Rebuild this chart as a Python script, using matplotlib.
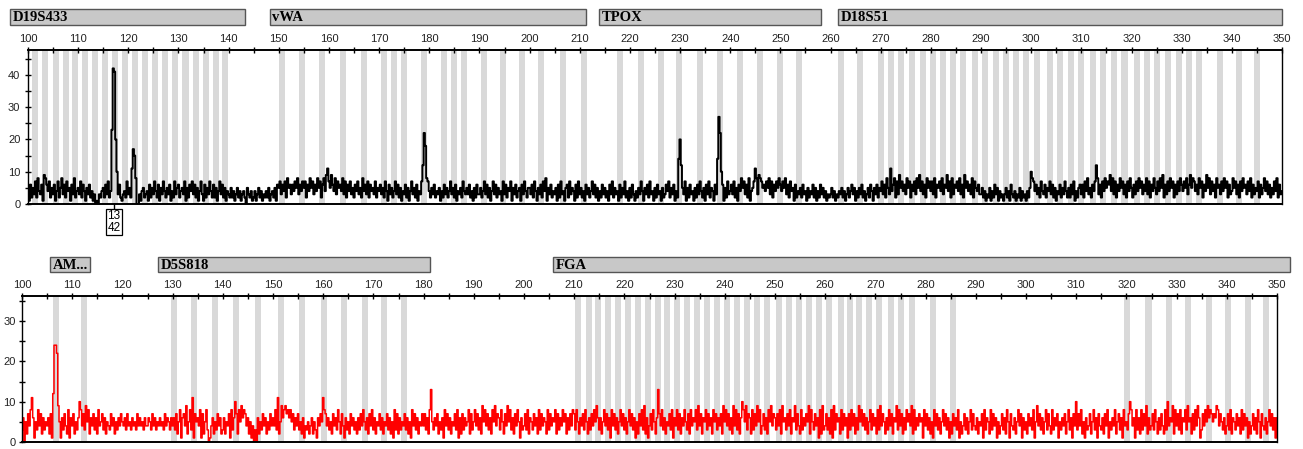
import numpy as np
import matplotlib
matplotlib.use("Agg")
import matplotlib.pyplot as plt
from matplotlib.patches import Rectangle
from matplotlib.transforms import blended_transform_factory
from matplotlib.ticker import MultipleLocator

# ---- data -------------------------------------------------------------
# baseline signal read every 0.25 bp from 100 bp, one digit per sample,
# one row per 10 bp
blue_rows = [
    "4162537284" "3619864725" "3614725836" "2745163824",  # 100
    "5372641536" "2413010324" "5263724130" "4536213427",  # 110
    "3524152003" "1452341625" "3742615374" "2536142735",  # 120
    "6245371526" "4736251473" "1625374262" "5147362514",  # 130
    "3252413524" "1342053241" "2413524132" "4251342516",  # 140
    "5736472856" "3647583647" "5726485736" "4857268496",  # 150
    "7596483756" "4837264735" "2647352846" "3726453725",  # 160
    "4635274163" "5247362514" "3625147352" "6143725367",  # 170
    "4253624351" "4263524735" "2614352743" "5362415263",  # 180
    "3524736251" "4736253417" "3625471536" "2451637425",  # 190
    "5362741536" "2748153624" "3516273415" "6273541627",  # 200
    "3524163524" "7362514263" "5241637253" "4162537241",  # 210
    "5263142537" "4153627341" "5263415236" "4725361427",  # 220
    "6253715263" "4152637425" "1637254163" "5243615273",  # 230
    "4637251648" "5736281457" "6839875647" "5837264758",  # 240
    "6475836274" "5162435263" "4152436251" "4263524132",  # 250
    "3524132435" "2413524635" "1425362413" "5264153625",  # 260
    "4736285374" "6827395746" "3857264738" "5947362857",  # 270
    "4738265748" "3659472836" "5748362957" "4638275463",  # 280
    "3524132514" "2635142313" "5241632413" "2514231425",  # 290
    "6874635274" "3625473625" "1436253742" "5263714256",  # 300
    "3627483526" "4758362748" "5769483726" "4857362748",  # 310
    "5263748573" "6483726485" "3748592637" "4857263748",  # 320
    "6475836958" "7463857264" "9583746285" "6374857263",  # 330
    "4857362748" "5637482635" "4726358473" "6253748263",  # 340
    "4",
]
red_rows = [
    "3605274816" "1538472635" "4627138572" "5163742816",  # 100
    "4725361847" "3958264736" "2845736254" "3746253647",  # 110
    "5463745364" "5374645364" "4653746354" "6453746536",  # 120
    "4637258167" "4925836175" "6481725830" "1462537462",  # 130
    "3625471836" "4728596874" "6251403062" "5374625374",  # 140
    "6483725968" "9786857364" "7352614352" "4625316475",  # 150
    "5874635274" "6385274163" "5274635263" "7485362748",  # 160
    "3625473625" "4736251837" "2635473625" "1847362547",  # 170
    "4736281536" "4725361847" "3625473816" "2736458273",  # 180
    "5847362958" "4736285947" "6385274958" "3627485163",  # 190
    "4738265374" "6283746528" "3746582736" "4857263748",  # 200
    "7385264738" "5263748596" "3625847361" "8473625847",  # 210
    "3625847361" "5274839261" "4738526374" "8362547381",  # 220
    "6483726485" "3728465839" "4726583746" "2857364729",  # 230
    "5847362948" "3726485937" "6283749582" "4736285947",  # 240
    "6374829563" "7482659374" "2836475928" "5374618293",  # 250
    "4736281937" "5628374617" "3847263958" "4736258374",  # 260
    "6283947526" "3847265938" "4726385749" "2836475618",  # 270
    "4736251847" "3625847361" "5274638152" "4736258374",  # 280
    "3625471836" "5283746152" "4736285174" "3625847163",  # 290
    "5274638159" "4736258374" "2836471536" "4725836174",  # 300
    "6374825163" "4725836174" "3627481536" "4825736184",  # 310
    "5372846183" "6283749263" "4738526374" "2837465928",  # 320
    "4738265839" "5627384961" "3748596875" "7698475362",  # 330
    "4738265374" "6283746152" "4736285174" "3625847361",  # 340
    "6",
]

# peaks and taller spikes (bp, height)
blue_peaks = [(116.75, 23), (117.0, 42), (117.25, 41), (117.5, 20), (117.75, 10),
              (120.75, 11), (121.0, 17), (121.25, 15), (121.5, 8),
              (159.75, 11), (178.75, 12), (179.0, 22), (179.25, 18),
              (179.5, 8), (229.75, 14), (230.0, 20), (230.25, 12),
              (237.5, 14), (237.75, 27), (238.0, 22), (238.25, 10), (245.0, 11),
              (272.0, 11), (300.0, 10), (313.0, 12)]
red_peaks = [(102.0, 11), (106.25, 12), (106.5, 24), (106.75, 24), (107.0, 22),
             (107.25, 9), (111.5, 10), (134.0, 11), (142.5, 10), (151.0, 11),
             (160.0, 11), (181.5, 13), (226.75, 13), (243.5, 10), (310.0, 10),
             (320.75, 10), (328.25, 10)]

# allele bin centres (bp)
top_bins = [
    101.4, 103.4, 105.5, 107.5, 109.4, 111.4, 113.4, 115.4, 117.4, 119.4,
    121.4, 123.4, 125.4, 127.4, 129.4, 131.4, 133.4, 135.4, 137.4, 139.3,
    150.6, 154.6, 158.7, 162.8, 167.0, 170.9, 172.9, 175.0, 179.0, 182.9,
    184.9, 186.9, 190.9, 194.7, 198.5, 202.3, 206.7, 210.8,
    218.1, 222.3, 226.1, 229.8, 233.9, 238.0, 241.9, 245.9, 249.9, 253.8,
    262.0, 265.9, 270.1, 272.1, 274.1, 276.2, 278.4, 280.4, 282.4, 284.5,
    286.5, 288.7, 290.7, 293.0, 295.0, 297.0, 299.0, 301.2, 303.7, 305.7,
    308.0, 310.0, 312.3, 314.3, 316.6, 318.6, 321.0, 323.0, 325.1, 327.3,
    329.4, 331.5, 333.5, 337.6, 341.4, 345.0,
]
bottom_bins = [
    106.7, 112.4,
    130.2, 134.3, 138.4, 142.7, 147.0, 151.5, 155.7, 160.1, 164.1, 168.3,
    172.1, 176.1,
    210.8, 213.0, 214.7, 216.7, 218.7, 220.7, 222.7, 224.7, 226.7, 228.4,
    230.4, 232.4, 234.4, 236.4, 238.4, 240.4, 242.4, 244.4, 246.4, 248.4,
    250.7, 252.7, 254.7, 256.7, 258.7, 260.7, 263.1, 264.9, 266.7, 268.7,
    270.7, 273.1, 275.1, 277.3, 281.4, 285.4,
    320.1, 324.4, 328.5, 332.3, 336.4, 340.3, 344.2, 347.9,
]

# marker ranges (name, start bp, end bp)
top_markers = [("D19S433", 96.4, 143.3), ("vWA", 148.2, 211.2),
               ("TPOX", 213.8, 258.1), ("D18S51", 261.5, 350.0)]
bottom_markers = [("AM...", 105.6, 113.5), ("D5S818", 127.1, 181.3),
                  ("FGA", 205.8, 352.6)]

call_pos = 117.15
call_label = "13\n42"

STEP = 0.25


def build_signal(rows, peaks):
    y = np.array([int(c) for c in "".join(rows)], dtype=float)
    for pos, h in peaks:
        y[int(round((pos - 100) / STEP))] = h
    x = 100 + STEP * np.arange(len(y))
    return x, y


# ---- drawing ----------------------------------------------------------
W, H = 1303, 449
fig = plt.figure(figsize=(W / 100, H / 100), dpi=100)
plt.rcParams["font.family"] = "Liberation Sans"

BIN_COLOR = "#d9d9d9"


def px_axes(left, right, top, bottom):
    return fig.add_axes([left / W, (H - bottom) / H, (right - left) / W, (bottom - top) / H])


def style_axes(ax, ymax, ypad):
    ax.set_xlim(100, 350)
    ax.set_ylim(0, ymax)
    ax.xaxis.tick_top()
    ax.set_xticks(range(100, 351, 10))
    ax.xaxis.set_minor_locator(MultipleLocator(5))
    ax.yaxis.set_major_locator(MultipleLocator(10))
    ax.yaxis.set_minor_locator(MultipleLocator(5))
    ax.tick_params(axis="x", which="both", direction="inout", length=5, width=1,
                   labelsize=8, pad=2)
    ax.tick_params(axis="y", which="both", direction="inout", length=5, width=1,
                   labelsize=8, pad=ypad)
    ax.tick_params(labelcolor="#222222")
    for s in ax.spines.values():
        s.set_linewidth(1.0)
    ax.spines["top"].set_linewidth(1.4)
    ax.spines["bottom"].set_linewidth(1.4)


def marker_boxes(ax, markers, y0, y1):
    tr = blended_transform_factory(ax.transData, ax.transAxes)
    for name, a, b in markers:
        ax.add_patch(Rectangle((a, y0), b - a, y1 - y0, transform=tr, clip_on=False,
                               facecolor="#c8c8c8", edgecolor="#555555", lw=1.0))
        ax.text(a + 0.5, (y0 + y1) / 2 - 0.005, name, transform=tr, ha="left", va="center",
                fontsize=10.5, fontweight="bold", family="Liberation Serif", clip_on=False)


x_top, y_top = build_signal(blue_rows, blue_peaks)
x_bot, y_bot = build_signal(red_rows, red_peaks)

# top panel
ax1 = px_axes(28, 1282, 50, 204)
for c in top_bins:
    ax1.axvspan(c - 0.6, c + 0.6, color=BIN_COLOR, lw=0, zorder=0)
ax1.plot(x_top, y_top, color="black", lw=1.4, drawstyle="steps-mid", zorder=2)
style_axes(ax1, 47.7, 3)
marker_boxes(ax1, top_markers, 1.162, 1.266)

tr1 = blended_transform_factory(ax1.transData, ax1.transAxes)
ax1.plot([call_pos, call_pos], [0, -0.04], color="black", lw=1, transform=tr1, clip_on=False)
ax1.text(call_pos, -0.04, call_label, transform=tr1, ha="center", va="top", fontsize=8.5,
         linespacing=0.95,
         bbox=dict(boxstyle="square,pad=0.12", facecolor="white", edgecolor="black", lw=0.9))

# bottom panel
ax2 = px_axes(22, 1277, 296, 442)
for c in bottom_bins:
    ax2.axvspan(c - 0.6, c + 0.6, color=BIN_COLOR, lw=0, zorder=0)
ax2.plot(x_bot, y_bot, color="#ff0000", lw=1.1, drawstyle="steps-mid", zorder=2)
style_axes(ax2, 36.2, 2)
marker_boxes(ax2, bottom_markers, 1.164, 1.267)

fig.savefig("out.png", dpi=100)
